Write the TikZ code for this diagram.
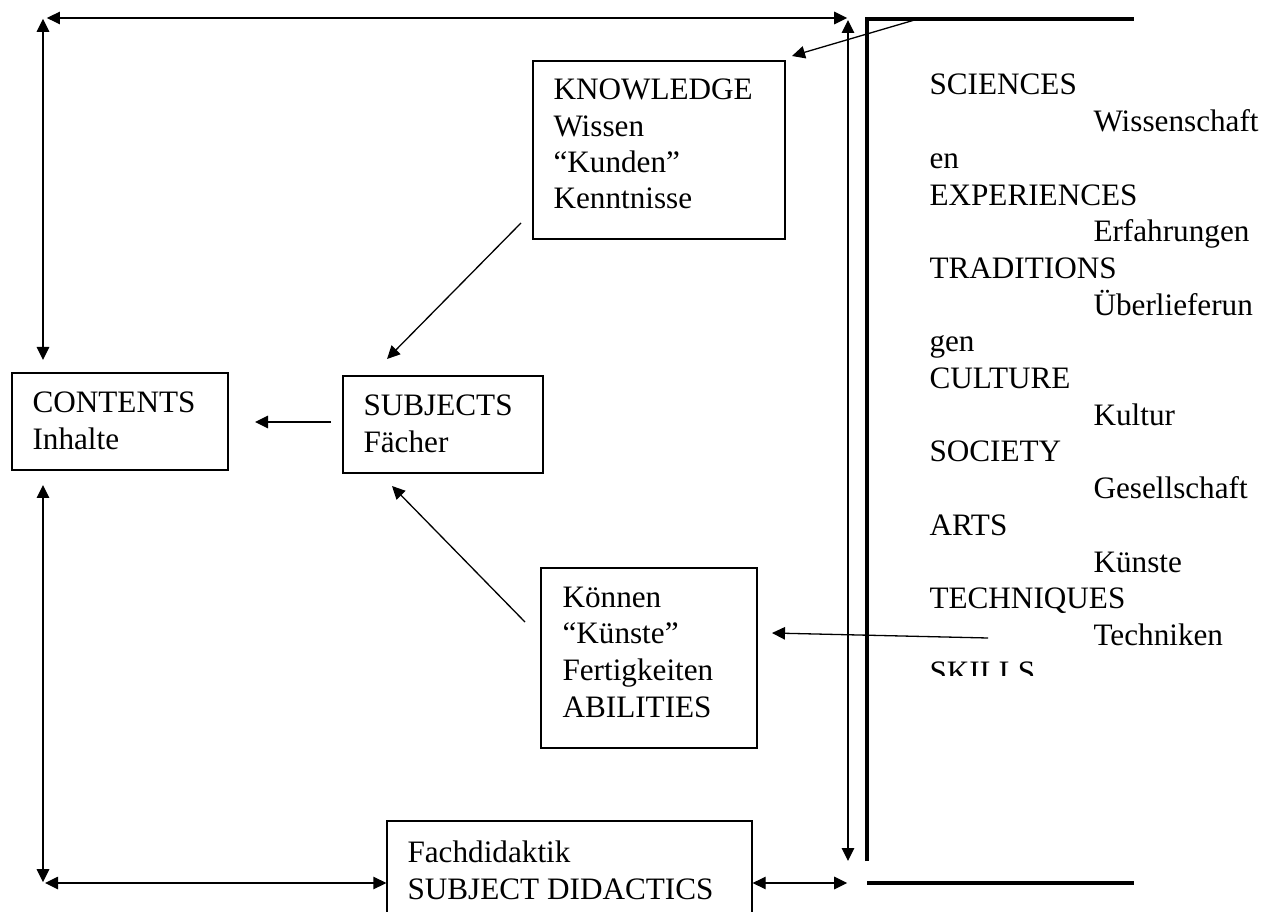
\documentclass[tikz,border=0pt]{standalone}
\usepackage{fontspec}
\setmainfont{Liberation Serif}
\usetikzlibrary{arrows.meta}
\tikzset{
  thin line/.style={line width=0.5pt},
  arr/.style={thin line, -{Triangle[length=5pt,width=4.8pt]}},
  darr/.style={thin line, {Triangle[length=5pt,width=4.8pt]}-{Triangle[length=5pt,width=4.8pt]}},
  boxn/.style={draw, thin line, inner sep=0pt},
  txt/.style={anchor=base west, inner sep=0pt, font=\fontsize{12pt}{14pt}\selectfont},
  heavy/.style={line width=1.55pt}
}
\begin{document}
\begin{tikzpicture}[x=0.3846pt, y=-0.3846pt]
\clip (0,0) rectangle (1275,912);
\useasboundingbox (0,0) rectangle (1275,912);

% boxes
\node[boxn, minimum width=252*0.3846pt, minimum height=178*0.3846pt] (know) at (659,150) {};
\node[boxn, minimum width=200*0.3846pt, minimum height=97*0.3846pt] (subj) at (443,424.5) {};
\node[boxn, minimum width=216*0.3846pt, minimum height=97*0.3846pt] (cont) at (120,421.5) {};
\node[boxn, minimum width=216*0.3846pt, minimum height=180*0.3846pt] (abil) at (649,658) {};
\node[boxn, minimum width=365*0.3846pt, minimum height=120*0.3846pt] (fach) at (569.5,881) {};

% box texts
\node[txt] (k1) at (553,100) {KNOWLEDGE};
\node[txt] (k2) at (553,137) {Wissen};
\node[txt] (k3) at (553,173) {“Kunden”};
\node[txt] (k4) at (553,209) {Kenntnisse};

\node[txt] (s1) at (363,416) {SUBJECTS};
\node[txt] (s2) at (363,453) {Fächer};

\node[txt] (c1) at (32,413) {CONTENTS};
\node[txt] (c2) at (32,450) {Inhalte};

\node[txt] (a1) at (562,607) {Können};
\node[txt] (a2) at (562,643) {“Künste”};
\node[txt] (a3) at (562,680) {Fertigkeiten};
\node[txt] (a4) at (562,717) {ABILITIES};

\node[txt] (f1) at (407,862) {Fachdidaktik};
\node[txt] (f2) at (407,899) {SUBJECT DIDACTICS};

% right column
\begin{scope}
\clip (870,40) rectangle (1275,675);
\node[txt] (r1)  at (929,95) {SCIENCES};
\node[txt] (r2)  at (1093,131.7) {Wissenschaft};
\node[txt] (r3)  at (929,168.4) {en};
\node[txt] (r4)  at (929,205.1) {EXPERIENCES};
\node[txt] (r5)  at (1093,241.8) {Erfahrungen};
\node[txt] (r6)  at (929,278.5) {TRADITIONS};
\node[txt] (r7)  at (1093,315.2) {Überlieferun};
\node[txt] (r8)  at (929,351.9) {gen};
\node[txt] (r9)  at (929,388.6) {CULTURE};
\node[txt] (r10) at (1093,425.3) {Kultur};
\node[txt] (r11) at (929,462) {SOCIETY};
\node[txt] (r12) at (1093,498.7) {Gesellschaft};
\node[txt] (r13) at (929,535.4) {ARTS};
\node[txt] (r14) at (1093,572.1) {Künste};
\node[txt] (r15) at (929,608.8) {TECHNIQUES};
\node[txt] (r16) at (1093,645.5) {Techniken};
\node[txt] (r17) at (929,682.2) {SKILLS};
\end{scope}

% heavy frame lines
\coordinate (hv1) at (867,861);
\coordinate (hv2) at (867,19);
\coordinate (hv3) at (1134,19);
\draw[heavy, line join=miter] (hv1) -- (hv2) -- (hv3);
\coordinate (hb1) at (867,883);
\coordinate (hb2) at (1134,883);
\draw[heavy] (hb1) -- (hb2);

% corner coordinates
\coordinate (tl) at (43,18);
\coordinate (tr) at (848,18);
\coordinate (bl) at (43,883);
\coordinate (br) at (848,883);

% outer double arrows
\draw[darr] ([xshift=1.5pt]tl) -- ([xshift=-0.3pt]tr);
\draw[darr] ([yshift=-0.3pt]tl) -- (43,360);
\draw[darr] (43,485) -- ([yshift=0.3pt]bl);
\draw[darr] ([xshift=0.8pt]bl) -- (fach.west |- bl);
\draw[darr] (fach.east |- br) -- ([xshift=-0.3pt]br);
\draw[darr] (848,20) -- (848,861);

% inner arrows
\coordinate (sc) at (918,19);
\draw[arr] (sc) -- (792,56);
\draw[arr] (331,422) -- (255,422);
\draw[arr] (521,223) -- (387,359);
\draw[arr] (525,622) -- (392,486);
\coordinate (te) at (988,638);
\draw[arr] (te) -- (772,633);
\end{tikzpicture}
\end{document}
